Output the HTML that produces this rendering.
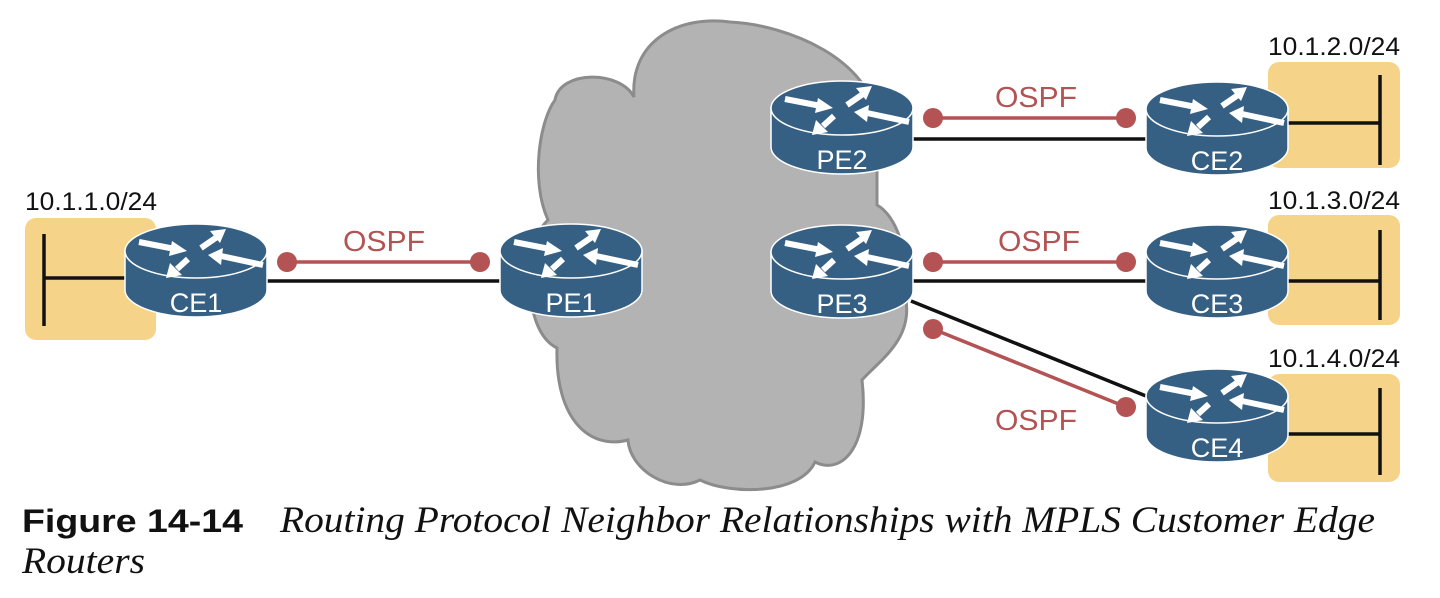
<!DOCTYPE html>
<html><head><meta charset="utf-8"><style>
html,body{margin:0;padding:0;background:#fff;}
svg{display:block;}
</style></head><body>
<svg width="1440" height="598" viewBox="0 0 1440 598" xmlns="http://www.w3.org/2000/svg">
<defs>
<g id="r">
  <path d="M0,28 L0,67 A71,27 0 0 0 142,67 L142,28 Z" fill="#356083" stroke="#fff" stroke-width="1.5"/>
  <ellipse cx="71" cy="28" rx="71" ry="27" fill="#356083" stroke="#fff" stroke-width="1.5"/>
  <g stroke="#fff" stroke-width="6" fill="#fff">
    <line x1="14" y1="19" x2="50" y2="26"/>
    <polygon points="47,18 62,28 44,33" stroke="none"/>
    <line x1="76" y1="25" x2="92" y2="14"/>
    <polygon points="85,8 101,6 95,20" stroke="none"/>
    <line x1="138" y1="42" x2="96" y2="33"/>
    <polygon points="98,25 83,32 96,42" stroke="none"/>
    <line x1="63" y1="36" x2="52" y2="46"/>
    <polygon points="45,40 41,55 57,52" stroke="none"/>
  </g>
</g>
</defs>

<path d="M555,100 C560,70 620,70 634,97 C630,40 680,15 730,22 C790,25 870,60 877,120 L877,205 C895,215 910,250 906,300 C912,340 880,360 862,380 C870,450 840,475 815,462 C800,495 730,495 700,480 C670,495 630,470 628,440 C590,450 555,420 557,348 C520,330 525,240 548,220 C530,180 540,120 555,100 Z" fill="#b3b3b3" stroke="#8c8c8c" stroke-width="3"/>

<rect x="25" y="218" width="131" height="122" rx="11" fill="#f5d489"/>
<rect x="1268" y="62" width="132" height="106" rx="11" fill="#f5d489"/>
<rect x="1268" y="215" width="132" height="110" rx="11" fill="#f5d489"/>
<rect x="1268" y="374" width="132" height="108" rx="11" fill="#f5d489"/>

<g stroke="#111" stroke-width="3.5">
  <line x1="44" y1="234" x2="44" y2="326"/>
  <line x1="44" y1="278" x2="126" y2="278"/>
  <line x1="1380" y1="75" x2="1380" y2="165"/>
  <line x1="1288" y1="123" x2="1380" y2="123"/>
  <line x1="1380" y1="230" x2="1380" y2="320"/>
  <line x1="1288" y1="281" x2="1380" y2="281"/>
  <line x1="1380" y1="388" x2="1380" y2="475"/>
  <line x1="1288" y1="434" x2="1380" y2="434"/>
  <line x1="267" y1="281" x2="500" y2="281"/>
  <line x1="912" y1="139" x2="1146" y2="139"/>
  <line x1="912" y1="281" x2="1146" y2="281"/>
  <line x1="911" y1="301" x2="1146" y2="396"/>
</g>

<g stroke="#b35353" stroke-width="3.5" fill="#b35353">
  <line x1="287" y1="262" x2="480" y2="262"/>
  <circle cx="287" cy="262" r="10" stroke="none"/><circle cx="480" cy="262" r="10" stroke="none"/>
  <line x1="933" y1="118" x2="1126" y2="118"/>
  <circle cx="933" cy="118" r="10" stroke="none"/><circle cx="1126" cy="118" r="10" stroke="none"/>
  <line x1="933" y1="262" x2="1126" y2="262"/>
  <circle cx="933" cy="262" r="10" stroke="none"/><circle cx="1126" cy="262" r="10" stroke="none"/>
  <line x1="933" y1="329" x2="1126" y2="407"/>
  <circle cx="933" cy="329" r="10" stroke="none"/><circle cx="1126" cy="407" r="10" stroke="none"/>
</g>

<g font-family="Liberation Sans, sans-serif" font-size="29" fill="#b35353">
  <text x="343" y="251" textLength="82" lengthAdjust="spacingAndGlyphs">OSPF</text>
  <text x="995" y="107" textLength="82" lengthAdjust="spacingAndGlyphs">OSPF</text>
  <text x="998" y="251" textLength="82" lengthAdjust="spacingAndGlyphs">OSPF</text>
  <text x="995" y="430" textLength="82" lengthAdjust="spacingAndGlyphs">OSPF</text>
</g>

<g font-family="Liberation Sans, sans-serif" font-size="25" fill="#111">
  <text x="25" y="210" textLength="132" lengthAdjust="spacingAndGlyphs">10.1.1.0/24</text>
  <text x="1268" y="55" textLength="132" lengthAdjust="spacingAndGlyphs">10.1.2.0/24</text>
  <text x="1268" y="209" textLength="132" lengthAdjust="spacingAndGlyphs">10.1.3.0/24</text>
  <text x="1268" y="367" textLength="132" lengthAdjust="spacingAndGlyphs">10.1.4.0/24</text>
</g>

<use href="#r" x="125" y="223"/>
<use href="#r" x="500" y="223"/>
<use href="#r" x="771" y="80"/>
<use href="#r" x="771" y="224"/>
<use href="#r" x="1146" y="81"/>
<use href="#r" x="1146" y="224"/>
<use href="#r" x="1146" y="368"/>

<g font-family="Liberation Sans, sans-serif" font-size="27" fill="#fff" text-anchor="middle">
  <text x="196" y="312">CE1</text>
  <text x="571" y="312">PE1</text>
  <text x="842" y="169">PE2</text>
  <text x="842" y="313">PE3</text>
  <text x="1217" y="170">CE2</text>
  <text x="1217" y="313">CE3</text>
  <text x="1217" y="457">CE4</text>
</g>

<text x="22" y="532" font-family="Liberation Sans, sans-serif" font-weight="bold" font-size="32" fill="#111" textLength="221" lengthAdjust="spacingAndGlyphs">Figure 14-14</text>
<text x="280" y="532" font-family="Liberation Serif, serif" font-style="italic" font-size="37" fill="#111" textLength="1095" lengthAdjust="spacingAndGlyphs">Routing Protocol Neighbor Relationships with MPLS Customer Edge</text>
<text x="22" y="573" font-family="Liberation Serif, serif" font-style="italic" font-size="37" fill="#111" textLength="123" lengthAdjust="spacingAndGlyphs">Routers</text>
</svg>
</body></html>
